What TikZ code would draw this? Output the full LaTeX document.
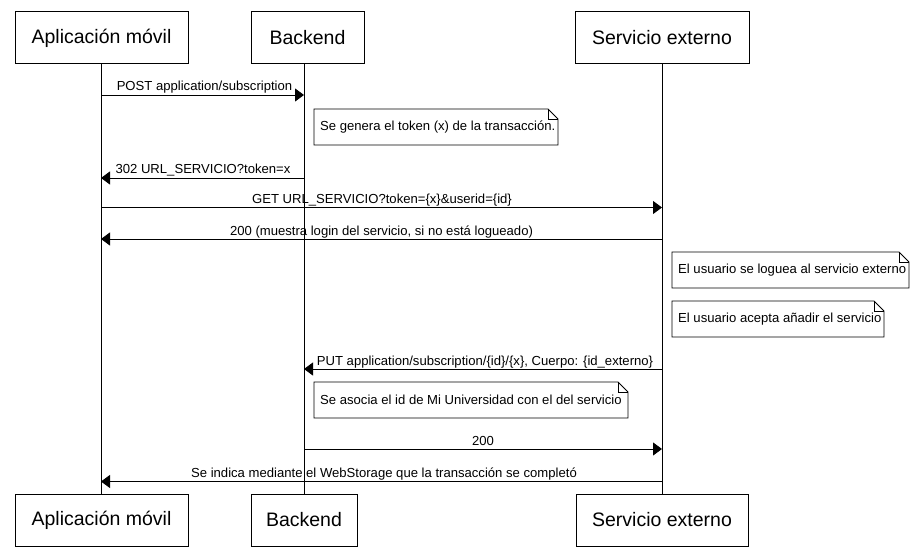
\documentclass[tikz,border=0pt]{standalone}
\usepackage{fontspec}
\setmainfont{Liberation Sans}
\usetikzlibrary{arrows.meta}
\newcommand\notebox[6]{%
  \draw[noteline] (#2,#3) -- (#4-10,#3) -- (#4,#3+10) -- (#4,#5) -- (#2,#5) -- cycle;
  \draw[noteline] (#4-10,#3) -- (#4-10,#3+10) -- (#4,#3+10);
  \node[notetxt] (#1) at (#2+6,{(#3+#5)/2}) {#6};}
\begin{document}
\begin{tikzpicture}[x=1pt,y=-1pt,
  part/.style={draw, line width=1pt, font=\fontsize{19.5}{23}\selectfont, inner sep=0pt},
  msg/.style={line width=0.9pt, -{Triangle[length=9pt,width=13pt]}},
  lbl/.style={font=\fontsize{13.1}{15}\selectfont, inner sep=0pt, anchor=base},
  notetxt/.style={font=\fontsize{13.1}{15}\selectfont, inner sep=0pt, anchor=west},
  noteline/.style={line width=0.9pt, line join=miter},
  life/.style={line width=0.9pt}]
\useasboundingbox (0,0) rectangle (919,559);
% participants
\node[part, minimum width=173pt, minimum height=52pt] (appT) at (101.5,38) {Aplicación móvil};
\node[part, minimum width=113pt, minimum height=52pt] (backT) at (307.5,38) {Backend};
\node[part, minimum width=174pt, minimum height=52pt] (servT) at (662,38) {Servicio externo};
\node[part, minimum width=173pt, minimum height=52pt] (appB) at (101.5,520) {Aplicación móvil};
\node[part, minimum width=106pt, minimum height=52pt] (backB) at (304,520) {Backend};
\node[part, minimum width=172pt, minimum height=52pt] (servB) at (662,520) {Servicio externo};
% lifelines
\coordinate (appL1) at (101,64); \coordinate (appL2) at (101,494);
\coordinate (backL1) at (304,64); \coordinate (backL2) at (304,494);
\coordinate (servL1) at (662,64); \coordinate (servL2) at (662,494);
\draw[life] (appL1) -- (appL2);
\draw[life] (backL1) -- (backL2);
\draw[life] (servL1) -- (servL2);
% messages
\coordinate (m1a) at (101,95); \coordinate (m1b) at (304,95);
\draw[msg] (m1a) -- (m1b);
\node[lbl] (t1) at (204.5,91) {POST application/subscription};
\notebox{n1}{314}{109}{558}{145}{Se genera el token (x) de la transacción.}
\coordinate (m2a) at (101,178); \coordinate (m2b) at (304,178);
\draw[msg] (m2b) -- (m2a);
\node[lbl] (t2) at (203,174) {302 URL\_SERVICIO?token=x};
\coordinate (m3a) at (101,207.5); \coordinate (m3b) at (662,207.5);
\draw[msg] (m3a) -- (m3b);
\node[lbl] (t3) at (382,203.5) {GET URL\_SERVICIO?token=\{x\}\&userid=\{id\}};
\coordinate (m4a) at (101,239); \coordinate (m4b) at (662,239);
\draw[msg] (m4b) -- (m4a);
\node[lbl] (t4) at (381.5,235) {200 (muestra login del servicio, si no está logueado)};
\notebox{n2}{672}{252}{909}{288}{El usuario se loguea al servicio externo}
\notebox{n3}{672}{301}{884}{337}{El usuario acepta añadir el servicio}
\coordinate (m5a) at (304,369); \coordinate (m5b) at (662,369);
\draw[msg] (m5b) -- (m5a);
\node[lbl] (t5) at (485,365) {PUT application/subscription/\{id\}/\{x\}, Cuerpo: \{id\_externo\}};
\notebox{n4}{314}{382}{628}{418}{Se asocia el id de Mi Universidad con el del servicio}
\coordinate (m6a) at (304,449); \coordinate (m6b) at (662,449);
\draw[msg] (m6a) -- (m6b);
\node[lbl] (t6) at (483,445) {200};
\coordinate (m7a) at (101,481.5); \coordinate (m7b) at (662,481.5);
\draw[msg] (m7b) -- (m7a);
\node[lbl] (t7) at (384,477.5) {Se indica mediante el WebStorage que la transacción se completó};
\end{tikzpicture}
\end{document}
